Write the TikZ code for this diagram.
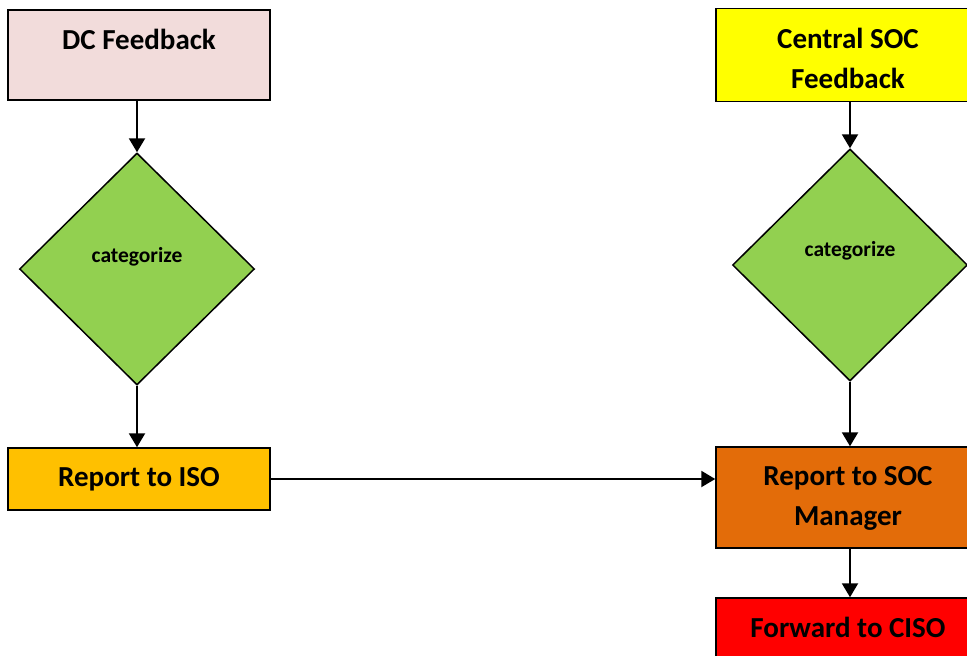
\documentclass[tikz,border=0pt]{standalone}
\usepackage{fontspec}
\setmainfont{Carlito}
\usetikzlibrary{shapes.geometric,arrows.meta}
\definecolor{dcpink}{HTML}{F2DCDB}
\definecolor{socyellow}{HTML}{FFFF00}
\definecolor{decgreen}{HTML}{92D050}
\definecolor{isoorange}{HTML}{FFC000}
\definecolor{mgrorange}{HTML}{E36C09}
\definecolor{cisored}{HTML}{FF0000}
\tikzset{
  stepbox/.style={draw=black, line width=1.5pt, rectangle, inner sep=0pt},
  steptext/.style={align=center, inner sep=0pt, font=\fontsize{29}{40}\selectfont\bfseries},
  decision/.style={draw=black, line width=1.5pt, diamond, fill=decgreen,
    inner sep=0pt, minimum width=235pt, minimum height=232pt},
  decisiontext/.style={font=\fontsize{21.5}{24}\selectfont\bfseries},
  flow/.style={line width=2.2pt, -{Triangle[width=16pt,length=14pt]}},
}
\begin{document}
\begin{tikzpicture}[x=1pt,y=-1pt]
  \useasboundingbox (0,0) rectangle (967,656);
  \clip (0,0) rectangle (967,656);
  \fill[white] (0,0) rectangle (967,656);

  % left column
  \node[stepbox, fill=dcpink, minimum width=262pt, minimum height=90pt] (dc) at (139,55) {};
  \node[steptext] (dctext) at (139,39) {DC Feedback};
  \node[decision] (catl) at (137,269) {};
  \node[decisiontext] (catltext) at (137,257) {categorize};
  \node[stepbox, fill=isoorange, minimum width=262pt, minimum height=62pt] (iso) at (139,479) {};
  \node[steptext] (isotext) at (139,479) {Report to ISO};

  % right column
  \node[stepbox, fill=socyellow, minimum width=268pt, minimum height=93pt] (soc) at (850,55) {};
  \node[steptext] (soctext) at (848,58) {Central SOC\\Feedback};
  \node[decision] (catr) at (850,265) {};
  \node[decisiontext] (catrtext) at (850,251) {categorize};
  \node[stepbox, fill=mgrorange, minimum width=268pt, minimum height=101pt] (mgr) at (850,497.5) {};
  \node[steptext] (mgrtext) at (848,498) {Report to SOC\\Manager};
  \node[stepbox, fill=cisored, minimum width=268pt, minimum height=60pt] (ciso) at (850,628) {};
  \node[steptext] (cisotext) at (848,627) {Forward to CISO};

  % connectors
  \draw[flow] (dc.south -| catl.north) -- (catl.north);
  \draw[flow] (catl.south) -- (iso.north -| catl.south);
  \draw[flow] (iso.east) -- (mgr.west |- iso.east);
  \draw[flow] (soc.south) -- (catr.north);
  \draw[flow] (catr.south) -- (mgr.north);
  \draw[flow] (mgr.south) -- (ciso.north);
\end{tikzpicture}
\end{document}
